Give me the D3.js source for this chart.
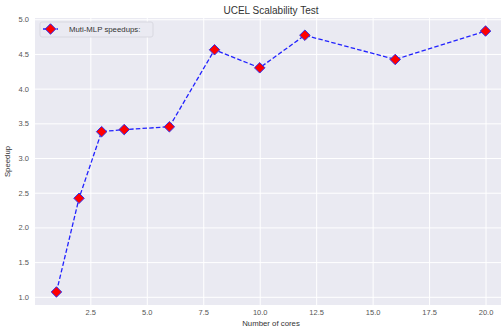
<!DOCTYPE html>
<html>
<head>
<meta charset="utf-8">
<script src="https://cdn.jsdelivr.net/npm/d3@7"></script>
<style>
    body { margin: 0; background: #fff; }
    svg { display: block; font-family: "Liberation Sans", Arial, sans-serif; }
</style>
</head>
<body>
<div id="plot"></div>
<script>
"use strict";

const cores = [1, 2, 3, 4, 6, 8, 10, 12, 16, 20];
const speedups = [1.07, 2.42, 3.38, 3.41, 3.45, 4.56, 4.30, 4.77, 4.42, 4.83];
const xTicks = [2.5, 5.0, 7.5, 10.0, 12.5, 15.0, 17.5, 20.0];
const yTicks = [1.0, 1.5, 2.0, 2.5, 3.0, 3.5, 4.0, 4.5, 5.0];

const msm = {
    width: 501,
    height: 330,
    left: 35,
    right: 507,
    top: 18,
    bottom: 305
}

let svg = d3.select("#plot")
    .append("svg")
    .attr("width", msm.width)
    .attr("height", msm.height)
    .style("overflow", "hidden");

// matplotlib style 5% margins around the data
let xPad = (d3.max(cores) - d3.min(cores)) * 0.05;
let yPad = (d3.max(speedups) - d3.min(speedups)) * 0.05;

let xScale = d3.scaleLinear()
    .domain([d3.min(cores) - xPad, d3.max(cores) + xPad])
    .range([msm.left, msm.right]);

let yScale = d3.scaleLinear()
    .domain([d3.min(speedups) - yPad, d3.max(speedups) + yPad])
    .range([msm.bottom, msm.top]);

// background
svg.append("rect")
    .attr("x", msm.left)
    .attr("y", msm.top)
    .attr("width", msm.right - msm.left)
    .attr("height", msm.bottom - msm.top)
    .attr("fill", "#EAEAF2");

// grid lines
let xAxis = d3.axisBottom(xScale)
    .tickValues(xTicks)
    .tickFormat(d3.format(".1f"))
    .tickSize(-(msm.bottom - msm.top))
    .tickPadding(5);
let gx = svg.append("g")
    .attr("transform", "translate(0," + msm.bottom + ")")
    .call(xAxis);

let yAxis = d3.axisLeft(yScale)
    .tickValues(yTicks)
    .tickFormat(d3.format(".1f"))
    .tickSize(-(msm.right - msm.left))
    .tickPadding(6);
let gy = svg.append("g")
    .attr("transform", "translate(" + msm.left + ",0)")
    .call(yAxis);

[gx, gy].forEach(function (g) {
    g.select(".domain").remove();
    g.selectAll(".tick line").attr("stroke", "#fff").attr("stroke-width", 1);
    g.selectAll(".tick text")
        .attr("fill", "#555")
        .style("font-size", "7.5px");
});

// line
let line = d3.line()
    .x(function (d, i) { return xScale(cores[i]); })
    .y(function (d) { return yScale(d); });

svg.append("path")
    .datum(speedups)
    .attr("d", line)
    .attr("fill", "none")
    .attr("stroke", "#2222ff")
    .attr("stroke-width", 1.3)
    .attr("stroke-dasharray", "4.5,2.2");

// diamond markers
let diamond = d3.symbol().type(d3.symbolDiamond2).size(70);
svg.append("g")
    .selectAll("path")
    .data(speedups)
    .enter()
    .append("path")
    .attr("d", diamond)
    .attr("transform", function (d, i) { return "translate(" + xScale(cores[i]) + "," + yScale(d) + ")"; })
    .attr("fill", "#ff0000")
    .attr("stroke", "#3030ee")
    .attr("stroke-width", 1);

// legend
let legend = svg.append("g").attr("transform", "translate(40,22)");
legend.append("rect")
    .attr("width", 113)
    .attr("height", 15)
    .attr("rx", 2)
    .attr("fill", "#EAEAF2")
    .attr("stroke", "#d4d4dc")
    .attr("stroke-width", 0.8);
legend.append("line")
    .attr("x1", 3).attr("x2", 18)
    .attr("y1", 7).attr("y2", 7)
    .attr("stroke", "#2222ff")
    .attr("stroke-width", 1.3)
    .attr("stroke-dasharray", "4.5,2.2");
legend.append("path")
    .attr("d", diamond)
    .attr("transform", "translate(10.5,7)")
    .attr("fill", "#ff0000")
    .attr("stroke", "#3030ee")
    .attr("stroke-width", 1);
legend.append("text")
    .attr("x", 29)
    .attr("y", 10)
    .attr("fill", "#333")
    .style("font-size", "7.8px")
    .text("Muti-MLP speedups:");

// title and axis labels
svg.append("text")
    .attr("x", (msm.left + msm.right) / 2)
    .attr("y", 14)
    .attr("text-anchor", "middle")
    .attr("fill", "#333")
    .style("font-size", "10px")
    .text("UCEL Scalability Test");

svg.append("text")
    .attr("x", (msm.left + msm.right) / 2)
    .attr("y", 326)
    .attr("text-anchor", "middle")
    .attr("fill", "#333")
    .style("font-size", "7.8px")
    .text("Number of cores");

svg.append("text")
    .attr("transform", "translate(10," + ((msm.top + msm.bottom) / 2) + ") rotate(-90)")
    .attr("text-anchor", "middle")
    .attr("fill", "#333")
    .style("font-size", "7.8px")
    .text("Speedup");
</script>
</body>
</html>
